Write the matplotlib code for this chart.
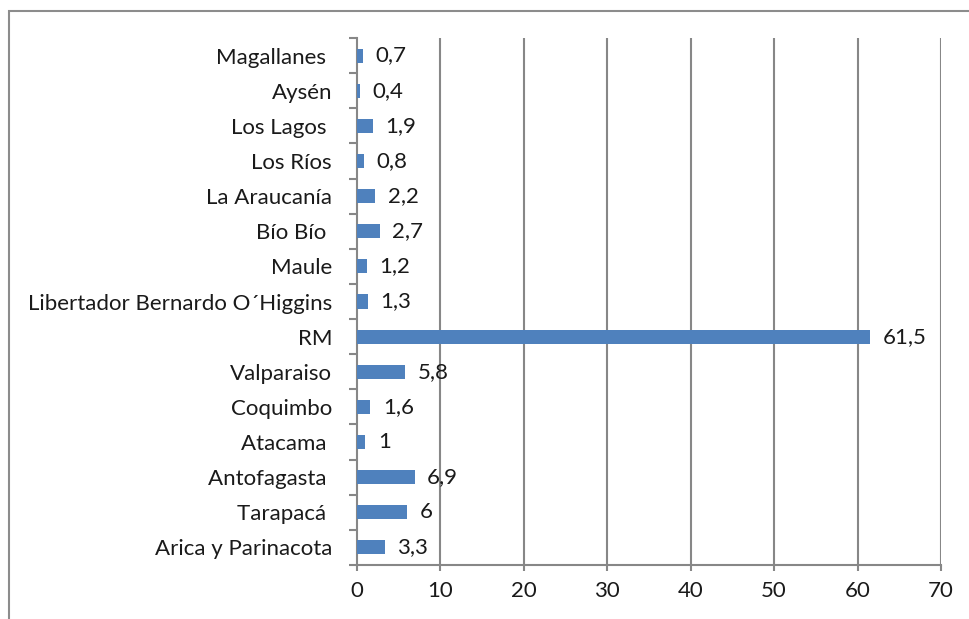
import matplotlib
matplotlib.use("Agg")
import matplotlib.pyplot as plt
from matplotlib.patches import Rectangle
import numpy as np

plt.rcParams['font.family'] = ['Lato', 'DejaVu Sans']

regions = ["Arica y Parinacota", "Tarapacá ", "Antofagasta ", "Atacama ", "Coquimbo",
           "Valparaiso", "RM", "Libertador Bernardo O´Higgins", "Maule", "Bío Bío ",
           "La Araucanía", "Los Ríos", "Los Lagos ", "Aysén", "Magallanes "]
values = [3.3, 6, 6.9, 1, 1.6, 5.8, 61.5, 1.3, 1.2, 2.7, 2.2, 0.8, 1.9, 0.4, 0.7]
value_labels = ["3,3", "6", "6,9", "1", "1,6", "5,8", "61,5", "1,3", "1,2", "2,7",
                "2,2", "0,8", "1,9", "0,4", "0,7"]
xticks = [0, 10, 20, 30, 40, 50, 60, 70]

fig = plt.figure(figsize=(9.7, 6.19), dpi=100)
fig.patches.append(Rectangle((9/970, -0.1), 1.2, 1 - 11/619 + 0.1, transform=fig.transFigure,
                             fill=False, edgecolor="#8c8c8c", linewidth=1.5))
ax = fig.add_axes([357/970, 1 - 565/619, (941 - 357)/970, (565 - 38)/619])

grid_c = "#878787"
txt_c = "#1a1a1a"
fs = 16
y = np.arange(len(regions))
ax.barh(y, values, height=0.4, color="#4F81BD", zorder=3)
for yi, v, lab in zip(y, values, value_labels):
    ax.annotate(lab, (v, yi), xytext=(9, 0), textcoords="offset points",
                ha="left", va="center", fontsize=fs, color=txt_c)

ax.set_xlim(0, 70)
ax.set_ylim(-0.5, len(regions) - 0.5)
ax.set_xticks(xticks)
ax.set_xticklabels([str(t) for t in xticks], fontsize=fs, color=txt_c)
ax.set_yticks(y)
ax.set_yticklabels(regions, fontsize=fs, color=txt_c)
ax.set_yticks(np.arange(-0.5, len(regions), 1), minor=True)
ax.tick_params(axis="y", which="major", length=0, pad=18)
ax.tick_params(axis="y", which="minor", length=6, width=1.5, color=grid_c)
ax.tick_params(axis="x", which="major", length=4.5, width=1.5, color=grid_c, pad=7)

for t in xticks[1:]:
    ax.axvline(t, color=grid_c, linewidth=1.5, zorder=1)

for s in ["top", "right"]:
    ax.spines[s].set_visible(False)
for s in ["left", "bottom"]:
    ax.spines[s].set_color(grid_c)
    ax.spines[s].set_linewidth(1.5)

fig.savefig("out.png", dpi=100)
